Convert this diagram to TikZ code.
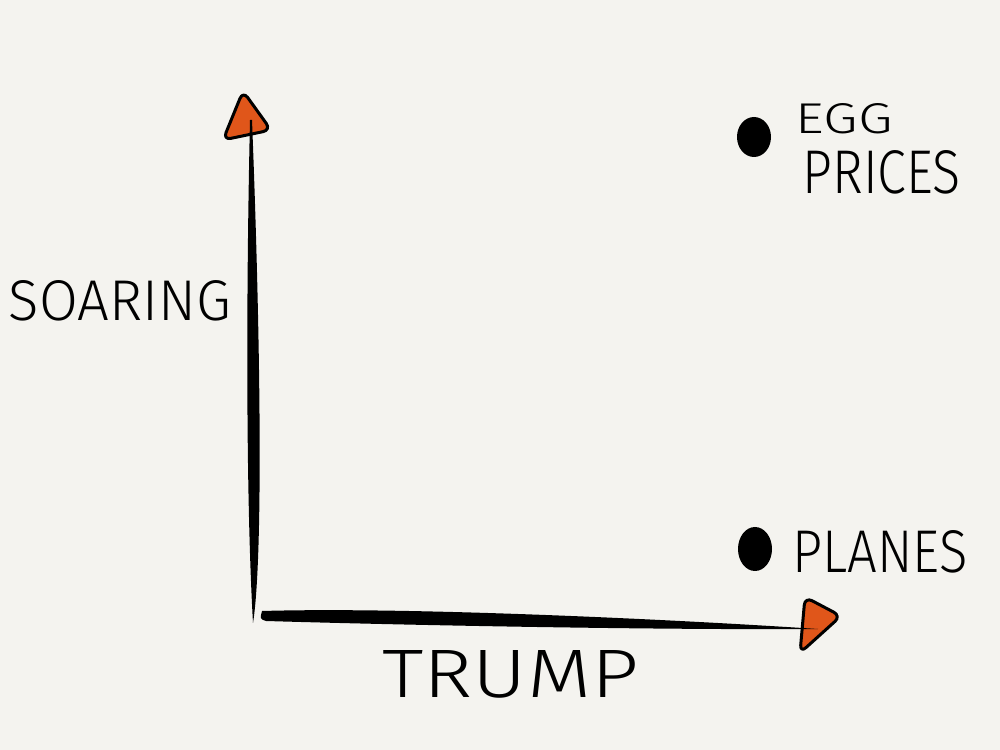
\documentclass[tikz,border=0pt]{standalone}
\usepackage{fontspec}
\setmainfont{Fira Sans Light}
\usepackage{tikz}
\usepackage{xcolor}
\definecolor{paper}{HTML}{F4F3EF}
\definecolor{tipred}{HTML}{E0561A}

\begin{document}
\begin{tikzpicture}[x=0.1mm, y=-0.1mm,
    tipbox/.style={fill=tipred, draw=black, line width=0.3mm, rounded corners=0.8mm, line join=round},
    blob/.style={fill=black},
    word/.style={inner sep=0, anchor=north west}]
    \fill[paper] (0,0) rectangle (1000,750);
    % arrow heads first, the axis strokes run over them
    \draw[tipbox] (243,91) -- (223,140) -- (271,130) -- cycle;
    \draw[tipbox] (805,597) -- (841,616) -- (800,653) -- cycle;
    % soaring axis
    \fill (250,120) .. controls (246,300) and (246,500) .. (253,623)
        .. controls (263,560) and (261,350) .. (252,120) -- cycle;
    % trump axis
    \fill (262,611) .. controls (400,607) and (650,618) .. (818,629)
        .. controls (650,630) and (400,625) .. (266,621)
        .. controls (260,619) .. cycle;
    % points
    \fill[blob] (754,137) ellipse (17 and 20);
    \fill[blob] (755,549) ellipse (17 and 22);
    \node[word] (egg) at (795,103) {\resizebox{9.7mm}{3.0mm}{EGG}};
    \node[word] (prices) at (802,150) {\resizebox{15.8mm}{4.3mm}{PRICES}};
    \node[word] (planes) at (792,530) {\resizebox{17.5mm}{4.2mm}{PLANES}};
    \node[word] (soaring) at (8,280) {\resizebox{22.2mm}{4.0mm}{SOARING}};
    \node[word] (trump) at (382,650) {\resizebox{25.6mm}{4.7mm}{TRUMP}};
\end{tikzpicture}
\end{document}
